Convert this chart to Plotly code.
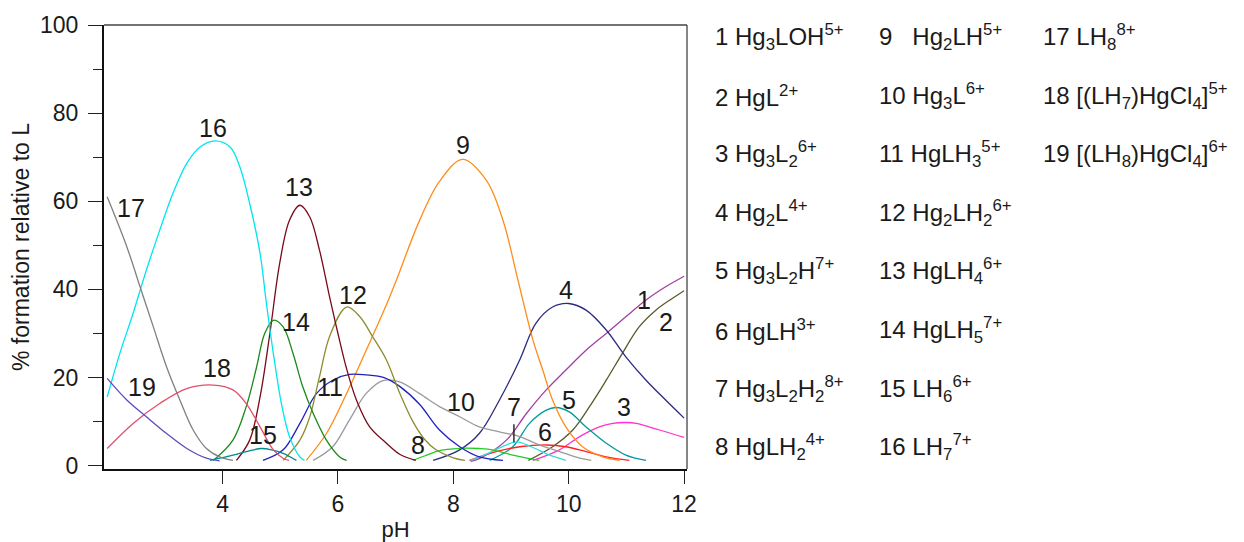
import plotly.graph_objects as go

# ---------------- data ----------------
ph1 = [8.3, 8.45, 8.92, 9.27, 9.61, 9.95, 10.3, 10.65, 10.99, 11.34, 11.68, 12.0]
v1 = [1.0, 1.6, 5.8, 11.9, 17.2, 21.7, 26.2, 30.0, 33.8, 37.6, 40.6, 43.0]

ph2 = [9.3, 9.72, 10.07, 10.36, 10.65, 10.93, 11.22, 11.51, 11.8, 12.0]
v2 = [1.2, 4.3, 8.1, 13.4, 19.4, 25.5, 31.5, 35.3, 38.0, 39.7]

ph3 = [9.38, 9.84, 10.19, 10.53, 10.76, 11.0, 11.17, 11.57, 12.0]
v3 = [1.2, 3.6, 6.6, 8.8, 9.6, 9.8, 9.6, 8.1, 6.4]

ph4 = [7.65, 8.11, 8.45, 8.8, 9.15, 9.43, 9.72, 10.0, 10.3, 10.65, 10.99, 11.34, 11.68, 12.0]
v4 = [1.2, 3.6, 7.3, 14.9, 24.0, 32.3, 36.0, 36.8, 35.3, 30.8, 24.7, 19.4, 14.9, 10.8]

ph5 = [8.63, 9.03, 9.32, 9.61, 9.78, 10.01, 10.3, 10.65, 10.99, 11.34]
v5 = [1.2, 4.3, 9.6, 12.6, 13.2, 12.2, 8.8, 5.1, 2.4, 1.2]

ph6 = [8.28, 8.74, 9.15, 9.61, 9.95, 10.3, 10.65, 11.05]
v6 = [1.2, 3.2, 4.3, 4.7, 4.3, 3.2, 2.0, 1.2]

ph7 = [8.3, 8.6, 8.9, 9.1, 9.35, 9.65, 9.95]
v7 = [1.2, 2.8, 4.6, 5.4, 4.3, 2.5, 1.2]

ph8 = [7.3, 7.5, 7.76, 8.0, 8.22, 8.45, 8.68, 9.03, 9.49]
v8 = [1.2, 2.2, 3.4, 3.8, 4.0, 3.9, 3.6, 2.4, 1.2]

ph9 = [5.45, 5.8, 6.15, 6.49, 6.84, 7.01, 7.41, 7.76, 8.16, 8.57, 8.86, 9.12,
       9.38, 9.55, 9.72, 9.95, 10.24, 10.59, 10.88]
v9 = [1.2, 7.3, 16.4, 26.2, 36.5, 42.0, 55.5, 64.5, 69.5, 64.8, 55.7, 42.1,
      28.5, 21.7, 14.9, 8.8, 4.3, 2.0, 1.2]

ph10 = [5.57, 5.91, 6.2, 6.49, 6.78, 7.07, 7.41, 7.76, 8.11, 8.45, 8.8, 9.15,
        9.49, 9.84, 10.19, 10.39]
v10 = [1.2, 4.3, 10.4, 16.4, 19.3, 19.0, 16.4, 13.4, 11.1, 8.8, 7.7, 6.6,
       4.7, 3.2, 1.7, 1.2]

ph11 = [4.7, 5.05, 5.34, 5.63, 5.91, 6.2, 6.49, 6.8, 7.07, 7.41, 7.76, 8.11, 8.45, 8.86]
v11 = [1.2, 3.6, 9.6, 16.4, 19.4, 20.7, 20.6, 20.0, 18.0, 14.0, 8.1, 4.3, 2.0, 1.2]

ph12 = [5.05, 5.34, 5.51, 5.68, 5.86, 6.15, 6.38, 6.6, 6.84, 7.07, 7.3, 7.5, 7.7, 8.0, 8.2]
v12 = [1.2, 5.8, 11.0, 20.2, 29.5, 36.0, 33.8, 29.3, 24.0, 16.5, 10.0, 6.0, 3.6, 1.8, 1.2]

ph13 = [4.24, 4.47, 4.65, 4.82, 4.99, 5.16, 5.34, 5.51, 5.68, 5.86, 6.0, 6.15,
        6.32, 6.55, 6.84, 7.07, 7.35]
v13 = [1.2, 5.8, 15.6, 30.0, 45.9, 55.7, 59.1, 56.5, 48.9, 38.0, 30.0, 22.0,
       14.9, 8.8, 5.1, 2.6, 1.2]

ph14 = [3.84, 4.18, 4.41, 4.59, 4.73, 4.88, 5.05, 5.22, 5.39, 5.57, 5.8, 6.03, 6.15]
v14 = [1.2, 5.8, 13.4, 22.4, 30.0, 33.0, 31.5, 25.5, 17.9, 11.9, 5.8, 2.0, 1.2]

ph15 = [3.78, 4.18, 4.45, 4.67, 4.85, 5.05, 5.28]
v15 = [1.2, 2.4, 3.3, 3.9, 3.6, 2.8, 1.2]

ph16 = [2.0, 2.22, 2.45, 2.68, 2.91, 3.14, 3.38, 3.61, 3.87, 4.13, 4.3, 4.47,
        4.65, 4.76, 4.88, 5.02, 5.16, 5.34, 5.42]
v16 = [15.6, 25.5, 34.6, 44.4, 53.4, 61.8, 68.6, 72.3, 73.7, 72.3, 67.8, 59.5,
       48.2, 36.8, 25.5, 14.1, 6.6, 2.0, 1.2]

ph17 = [2.0, 2.34, 2.57, 2.8, 3.03, 3.26, 3.49, 3.72, 3.95, 4.18]
v17 = [61.0, 49.7, 40.6, 31.5, 22.4, 14.9, 8.1, 3.9, 2.0, 1.2]

ph18 = [2.0, 2.45, 2.91, 3.38, 3.84, 4.18, 4.41, 4.65, 4.88, 5.05, 5.15]
v18 = [3.9, 9.6, 14.1, 17.5, 18.3, 17.2, 14.1, 8.8, 3.6, 1.7, 1.2]

ph19 = [2.0, 2.34, 2.68, 3.03, 3.38, 3.72, 3.95]
v19 = [19.8, 14.9, 11.1, 7.3, 3.9, 1.7, 1.1]

series_ph = [ph1, ph2, ph3, ph4, ph5, ph6, ph7, ph8, ph9, ph10,
             ph11, ph12, ph13, ph14, ph15, ph16, ph17, ph18, ph19]
series_v = [v1, v2, v3, v4, v5, v6, v7, v8, v9, v10,
            v11, v12, v13, v14, v15, v16, v17, v18, v19]

colors = ["#a040a0", "#5a5a2a", "#ff33cc", "#2b2b80", "#009b9b", "#ff2020",
          "#33dddd", "#22cc22", "#ff8c1a", "#9a9a9a", "#2020c0", "#8c8c30",
          "#7a0a1a", "#1a8a1a", "#008b8b", "#00e5ee", "#808080", "#e0506a",
          "#5a4fc0"]

# curve label positions (pH, %)
label_ph = [11.31, 11.69, 10.96, 9.95, 10.01, 9.58, 9.05, 7.39, 8.16, 8.14,
            5.86, 6.26, 5.33, 5.27, 4.70, 3.83, 2.41, 3.90, 2.60]
label_v = [37.6, 32.5, 13.4, 39.8, 14.9, 7.7, 13.4, 4.7, 72.7, 14.5,
           17.9, 38.7, 63.3, 32.7, 7.0, 76.6, 58.4, 22.1, 17.9]

species = [
    "1 Hg<sub>3</sub>LOH<sup>5+</sup>",
    "2 HgL<sup>2+</sup>",
    "3 Hg<sub>3</sub>L<sub>2</sub><sup>6+</sup>",
    "4 Hg<sub>2</sub>L<sup>4+</sup>",
    "5 Hg<sub>3</sub>L<sub>2</sub>H<sup>7+</sup>",
    "6 HgLH<sup>3+</sup>",
    "7 Hg<sub>3</sub>L<sub>2</sub>H<sub>2</sub><sup>8+</sup>",
    "8 HgLH<sub>2</sub><sup>4+</sup>",
    "9\u00a0\u00a0\u00a0Hg<sub>2</sub>LH<sup>5+</sup>",
    "10 Hg<sub>3</sub>L<sup>6+</sup>",
    "11 HgLH<sub>3</sub><sup>5+</sup>",
    "12 Hg<sub>2</sub>LH<sub>2</sub><sup>6+</sup>",
    "13 HgLH<sub>4</sub><sup>6+</sup>",
    "14 HgLH<sub>5</sub><sup>7+</sup>",
    "15 LH<sub>6</sub><sup>6+</sup>",
    "16 LH<sub>7</sub><sup>7+</sup>",
    "17 LH<sub>8</sub><sup>8+</sup>",
    "18 [(LH<sub>7</sub>)HgCl<sub>4</sub>]<sup>5+</sup>",
    "19 [(LH<sub>8</sub>)HgCl<sub>4</sub>]<sup>6+</sup>",
]

x_ticks = [4, 6, 8, 10, 12]
y_ticks = [0, 20, 40, 60, 80, 100]

# ---------------- layout geometry ----------------
OFF = 8  # default page body margin
PAGE_W, PAGE_H = 1244, 542
L, R, T, B = 104, 687, 25, 469          # plot area in page pixels
W, H = PAGE_W - OFF, PAGE_H - OFF
FONT = "Liberation Sans, Arial, sans-serif"
TXT = "#1a1a1a"


def px_x(px):
    return (px - L) / (R - L)


def px_y(py):
    return (B - py) / (B - T)


fig = go.Figure()
for i in range(len(series_ph)):
    fig.add_trace(go.Scatter(
        x=series_ph[i], y=series_v[i], mode="lines",
        line=dict(color=colors[i], width=1.3, shape="spline", smoothing=1.0),
        showlegend=False, hoverinfo="skip"))

annotations = []
for i in range(len(label_ph)):
    n = str(i + 1)
    if n == "7":
        annotations.append(dict(
            x=label_ph[i], y=5.3, xref="x", yref="y",
            ax=label_ph[i], ay=label_v[i], axref="x", ayref="y",
            text=n, showarrow=True, arrowhead=0, arrowwidth=1.3,
            arrowcolor="#111", startstandoff=2,
            font=dict(family=FONT, size=25, color=TXT)))
    else:
        annotations.append(dict(
            x=label_ph[i], y=label_v[i], xref="x", yref="y", text=n,
            showarrow=False, font=dict(family=FONT, size=25, color=TXT)))

# species list, three columns
col_x = [713, 877, 1041]
row_y = [37, 96, 154, 213, 271, 330, 389, 447]
for k, s in enumerate(species):
    c = k // 8
    r = k % 8
    annotations.append(dict(
        x=px_x(col_x[c]), y=px_y(row_y[r]), xref="paper", yref="paper",
        xanchor="left", yanchor="middle", text=s, showarrow=False,
        font=dict(family=FONT, size=24, color=TXT)))

shapes = [
    dict(type="line", xref="paper", yref="paper", x0=0, x1=1, y0=1, y1=1,
         line=dict(color="#444", width=1.3)),
    dict(type="line", xref="paper", yref="paper", x0=1, x1=1, y0=0, y1=1,
         line=dict(color="#444", width=1.3)),
]

fig.update_layout(
    width=W, height=H, autosize=False,
    margin=dict(l=L - OFF, r=PAGE_W - R, t=T - OFF, b=PAGE_H - B, pad=0,
                autoexpand=False),
    paper_bgcolor="white", plot_bgcolor="white",
    font=dict(family=FONT, size=22, color=TXT),
    annotations=annotations, shapes=shapes,
    xaxis=dict(
        range=[1.945, 12.05], tickvals=x_ticks, ticktext=[str(t) for t in x_ticks],
        ticks="outside", ticklen=13, tickwidth=1.3, tickcolor="#222",
        ticklabelstandoff=0, automargin=False,
        showline=True, linecolor="#111", linewidth=2, mirror=False,
        showgrid=False, zeroline=False,
        tickfont=dict(family=FONT, size=23, color=TXT),
        title=dict(text="pH", font=dict(family=FONT, size=22, color=TXT), standoff=16),
    ),
    yaxis=dict(
        range=[-0.75, 100], tickvals=y_ticks, ticktext=[str(t) for t in y_ticks],
        ticks="outside", ticklen=14, tickwidth=1.3, tickcolor="#222",
        ticklabelstandoff=5, automargin=False,
        minor=dict(ticks="outside", ticklen=9, tickwidth=1.3, tickcolor="#222",
                   dtick=10, tick0=0, showgrid=False),
        showline=True, linecolor="#111", linewidth=2, mirror=False,
        showgrid=False, zeroline=False,
        tickfont=dict(family=FONT, size=23, color=TXT),
        title=dict(text="% formation relative to L",
                   font=dict(family=FONT, size=23, color=TXT), standoff=8),
    ),
)

fig.write_html("out.html")
